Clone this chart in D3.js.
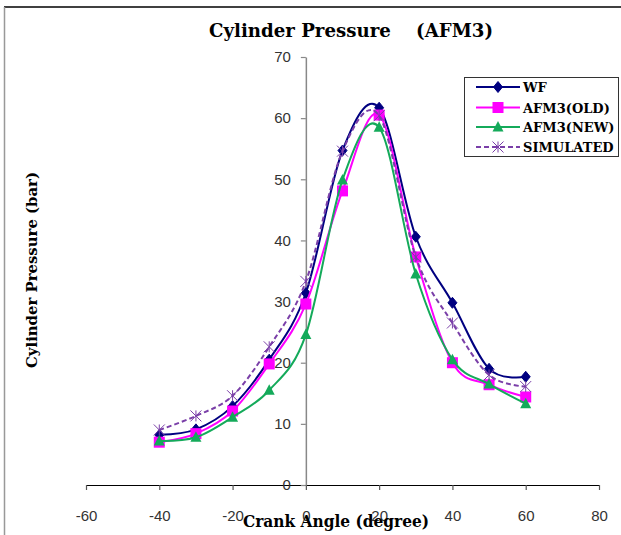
<!DOCTYPE html>
<html>
<head>
<meta charset="utf-8">
<script src="https://cdn.jsdelivr.net/npm/d3@7"></script>
<style>
  html, body { margin: 0; padding: 0; background: #fff; }
  svg { display: block; }
</style>
</head>
<body>
<svg id="chart" width="621" height="535"></svg>
<script>
// Crank angle positions (degrees)
const crankAngles = [-40, -30, -20, -10, 0, 10, 20, 30, 40, 50, 60];

// Cylinder pressure (bar) for each series
const wfValues        = [8.2, 9.1, 12.9, 20.5, 31.4, 54.7, 61.7, 40.6, 29.8, 19.0, 17.7];
const afm3OldValues   = [7.0, 8.4, 12.1, 19.8, 29.6, 48.1, 60.5, 37.3, 20.0, 16.4, 14.4];
const afm3NewValues   = [7.2, 7.8, 11.1, 15.5, 24.6, 49.9, 58.5, 34.5, 20.5, 16.5, 13.3];
const simulatedValues = [9.0, 11.3, 14.6, 22.6, 33.3, 54.6, 60.4, 37.3, 26.5, 18.0, 16.1];

const seriesNames = ["WF", "AFM3(OLD)", "AFM3(NEW)", "SIMULATED"];

// Axis ticks
const xTicks = [-60, -40, -20, 0, 20, 40, 60, 80];
const yTicks = [0, 10, 20, 30, 40, 50, 60, 70];

const seriesStyles = [
  { color: "#000080", marker: "diamond",  dash: null },
  { color: "#ff00ff", marker: "square",   dash: null },
  { color: "#14aa5a", marker: "triangle", dash: null },
  { color: "#7a3fa8", marker: "asterisk", dash: "5,3" }
];

const seriesValues = [wfValues, afm3OldValues, afm3NewValues, simulatedValues];

const svg = d3.select("#chart");

// Outer frame lines
svg.append("line").attr("x1", 4).attr("x2", 621).attr("y1", 7).attr("y2", 7)
  .attr("stroke", "#000").attr("stroke-width", 1.5);
svg.append("line").attr("x1", 4.5).attr("x2", 4.5).attr("y1", 7).attr("y2", 535)
  .attr("stroke", "#999").attr("stroke-width", 1.5);

const x = d3.scaleLinear().domain([-60, 80]).range([86, 599]);
const y = d3.scaleLinear().domain([0, 70]).range([485, 57]);

// Plain hyphen-minus labels
const plainFormat = d => String(d);

// X axis (black line, ticks below)
const xAxisG = svg.append("g").attr("transform", `translate(0,${y(0)})`)
  .call(d3.axisBottom(x).tickValues(xTicks).tickFormat(plainFormat)
    .tickSize(5).tickSizeOuter(0).tickPadding(20));
xAxisG.select(".domain").attr("stroke", "#000").attr("stroke-width", 1.2);
xAxisG.selectAll(".tick line").attr("stroke", "#555").attr("stroke-width", 1.2);
xAxisG.selectAll(".tick text")
  .attr("font-family", "Liberation Sans, Arial, sans-serif")
  .attr("font-size", 15).attr("fill", "#333");

// Y axis (grey line at x = 0)
const yAxisG = svg.append("g").attr("transform", `translate(${x(0)},0)`)
  .call(d3.axisLeft(y).tickValues(yTicks).tickFormat(plainFormat)
    .tickSize(5).tickSizeOuter(0).tickPadding(10));
yAxisG.select(".domain").attr("stroke", "#888").attr("stroke-width", 1.5);
yAxisG.selectAll(".tick line").attr("stroke", "#888").attr("stroke-width", 1.2);
yAxisG.selectAll(".tick text")
  .attr("font-family", "Liberation Sans, Arial, sans-serif")
  .attr("font-size", 15).attr("fill", "#333");

// Smoothed line generator
const line = d3.line()
  .x(d => x(d[0]))
  .y(d => y(d[1]))
  .curve(d3.curveCatmullRom.alpha(0));

function drawMarker(g, type, cx, cy, color) {
  if (type === "diamond") {
    g.append("path")
      .attr("d", `M${cx},${cy - 5.5}L${cx + 4.5},${cy}L${cx},${cy + 5.5}L${cx - 4.5},${cy}Z`)
      .attr("fill", color).attr("stroke", color);
  } else if (type === "square") {
    g.append("rect").attr("x", cx - 5.5).attr("y", cy - 5.5)
      .attr("width", 11).attr("height", 11).attr("fill", color);
  } else if (type === "triangle") {
    g.append("path")
      .attr("d", `M${cx},${cy - 6}L${cx + 5.5},${cy + 4.5}L${cx - 5.5},${cy + 4.5}Z`)
      .attr("fill", color);
  } else if (type === "asterisk") {
    const r = 5.5;
    g.append("path")
      .attr("d", `M${cx - r},${cy - r}L${cx + r},${cy + r}M${cx - r},${cy + r}L${cx + r},${cy - r}M${cx},${cy - r}L${cx},${cy + r}`)
      .attr("stroke", color).attr("stroke-width", 1).attr("fill", "none");
  }
}

// Series lines and markers
seriesValues.forEach((vals, i) => {
  const st = seriesStyles[i];
  const pts = crankAngles.map((a, j) => [a, vals[j]]);
  const g = svg.append("g");
  g.append("path").datum(pts)
    .attr("d", line)
    .attr("fill", "none")
    .attr("stroke", st.color)
    .attr("stroke-width", 2)
    .attr("stroke-dasharray", st.dash);
  pts.forEach(p => drawMarker(g, st.marker, x(p[0]), y(p[1]), st.color));
});

// Titles
const serif = "'DejaVu Serif', 'Liberation Serif', serif";
svg.append("text")
  .attr("x", 351).attr("y", 37)
  .attr("text-anchor", "middle")
  .attr("font-family", serif).attr("font-weight", "bold").attr("font-size", 18)
  .attr("textLength", 284).attr("lengthAdjust", "spacingAndGlyphs")
  .attr("xml:space", "preserve")
  .text("Cylinder Pressure    (AFM3)");

svg.append("text")
  .attr("transform", "translate(37,270) rotate(-90)")
  .attr("text-anchor", "middle")
  .attr("font-family", serif).attr("font-weight", "bold").attr("font-size", 15)
  .attr("textLength", 196).attr("lengthAdjust", "spacingAndGlyphs")
  .text("Cylinder Pressure (bar)");

svg.append("text")
  .attr("x", 336).attr("y", 527)
  .attr("text-anchor", "middle")
  .attr("font-family", serif).attr("font-weight", "bold").attr("font-size", 16)
  .attr("textLength", 186).attr("lengthAdjust", "spacingAndGlyphs")
  .text("Crank Angle (degree)");

// Legend
const legend = svg.append("g");
legend.append("rect")
  .attr("x", 464.5).attr("y", 77.5).attr("width", 154).attr("height", 79)
  .attr("fill", "#fff").attr("stroke", "#333").attr("stroke-width", 1);
const legendRows = [87, 107.5, 127, 147];
seriesNames.forEach((name, i) => {
  const st = seriesStyles[i];
  const ly = legendRows[i];
  legend.append("line")
    .attr("x1", 476).attr("x2", 520).attr("y1", ly).attr("y2", ly)
    .attr("stroke", st.color).attr("stroke-width", 2)
    .attr("stroke-dasharray", st.dash);
  drawMarker(legend, st.marker, 498, ly, st.color);
  legend.append("text")
    .attr("x", 523).attr("y", ly + 5)
    .attr("font-family", serif).attr("font-weight", "bold").attr("font-size", 13)
    .text(name);
});
</script>
</body>
</html>
